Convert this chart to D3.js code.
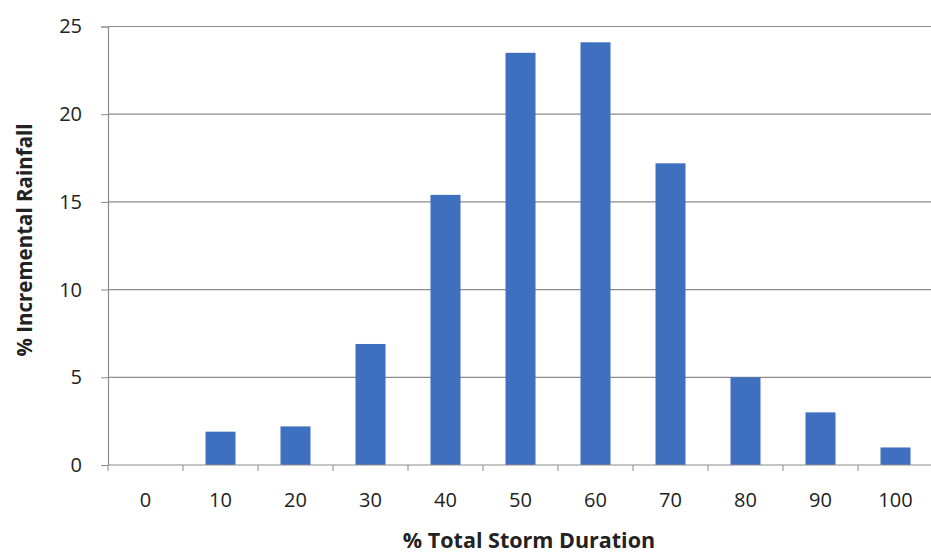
<!DOCTYPE html>
<html>
<head>
<meta charset="utf-8">
<script src="https://cdn.jsdelivr.net/npm/d3@7"></script>
<style>
  html, body { margin: 0; padding: 0; background: #fff; }
  svg { display: block; }
  text { font-family: "Open Sans", "Liberation Sans", sans-serif; fill: #222; }
</style>
</head>
<body>
<svg id="chart" width="931" height="554"></svg>
<script>
// Incremental rainfall by storm-duration step
const durations = ["0", "10", "20", "30", "40", "50", "60", "70", "80", "90", "100"];
const rainfall = [0, 1.9, 2.2, 6.9, 15.4, 23.5, 24.1, 17.2, 5.0, 3.0, 1.0];
const yTicks = [0, 5, 10, 15, 20, 25];

const svg = d3.select("#chart");
const plotLeft = 108, plotRight = 933, plotTop = 26.5, plotBottom = 465;

const x = d3.scaleBand().domain(durations).range([plotLeft, plotRight]);
const y = d3.scaleLinear().domain([0, 25]).range([plotBottom, plotTop]);
const barWidth = 30;
const fontStack = "'Open Sans', 'Liberation Sans', sans-serif";

// horizontal gridlines
svg.append("g").selectAll("line").data(yTicks.filter(d => d > 0)).join("line")
  .attr("x1", plotLeft).attr("x2", plotRight)
  .attr("y1", d => y(d)).attr("y2", d => y(d))
  .attr("stroke", "#8c8c8c").attr("stroke-width", 1.2);

// bars
svg.append("g").selectAll("rect").data(durations).join("rect")
  .attr("x", d => x(d) + x.bandwidth() / 2 - barWidth / 2)
  .attr("width", barWidth)
  .attr("y", (d, i) => y(rainfall[i]))
  .attr("height", (d, i) => plotBottom - y(rainfall[i]))
  .attr("fill", "#3f70c0");

// y axis
const yAxis = d3.axisLeft(y).tickValues(yTicks).tickSize(7).tickPadding(19);
const gy = svg.append("g").attr("transform", `translate(${plotLeft},0)`).call(yAxis);
gy.select(".domain").attr("stroke", "#8c8c8c").attr("stroke-width", 1.2);
gy.selectAll(".tick line").attr("stroke", "#8c8c8c");
gy.selectAll(".tick text").style("font-size", "20px").attr("fill", "#222")
  .style("font-family", fontStack);

// x axis: tick marks sit between categories
const gx = svg.append("g").attr("transform", `translate(0,${plotBottom})`);
gx.append("line").attr("x1", plotLeft).attr("x2", plotRight).attr("y1", 0).attr("y2", 0)
  .attr("stroke", "#8c8c8c").attr("stroke-width", 1.2);
gx.selectAll("line.sep").data(durations).join("line").attr("class", "sep")
  .attr("x1", d => x(d)).attr("x2", d => x(d))
  .attr("y1", 0).attr("y2", 6).attr("stroke", "#8c8c8c");
gx.selectAll("text.lab").data(durations).join("text").attr("class", "lab")
  .attr("x", d => x(d) + x.bandwidth() / 2)
  .attr("y", 42).attr("text-anchor", "middle")
  .style("font-size", "20px").text(d => d);

// axis titles
svg.append("text").attr("x", 529).attr("y", 548).attr("text-anchor", "middle")
  .style("font-size", "21.5px").style("font-weight", "bold").text("% Total Storm Duration");
svg.append("text").attr("transform", "translate(32,240) rotate(-90)").attr("text-anchor", "middle")
  .style("font-size", "20.5px").style("font-weight", "bold").text("% Incremental Rainfall");
</script>
</body>
</html>
